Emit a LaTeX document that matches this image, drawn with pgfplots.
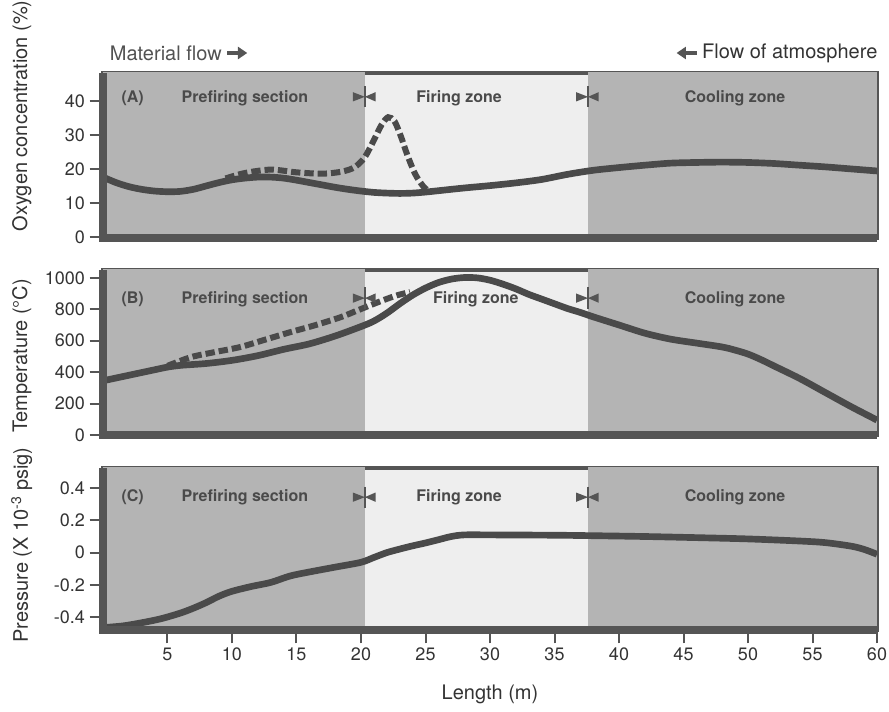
\documentclass[border=0pt]{standalone}
\usepackage{fontspec}
\setmainfont{TeX Gyre Heros}
\usepackage{pgfplots}
\pgfplotsset{compat=1.18}
\usetikzlibrary{arrows.meta}

\definecolor{ink}{HTML}{4A4A4A}
\definecolor{zonegray}{HTML}{B4B4B4}
\definecolor{firegray}{HTML}{EEEEEE}
\definecolor{frame}{HTML}{555555}
\definecolor{txt}{HTML}{333333}

\tikzset{zone/.style={font=\bfseries\fontsize{12}{13}\selectfont, text=ink}}

\pgfplotsset{
  kiln/.style={
    scale only axis, width=580.5pt,
    xmin=0, xmax=60,
    axis line style={draw=frame, line width=2.5pt},
    axis background/.style={fill=firegray},
    tick align=outside, tick pos=left,
    major tick length=10pt,
    tick style={draw=frame, line width=1.5pt},
    every tick label/.append style={font=\fontsize{13.5}{14}\selectfont, text=txt},
    /pgf/number format/assume math mode=true,
    /pgf/number format/1000 sep={},
    ylabel style={font=\fontsize{15}{16}\selectfont, text=txt, anchor=center},
    after end axis/.append code={
      \draw[frame, line width=5.5pt] (rel axis cs:0,1) -- (rel axis cs:0,0) -- (rel axis cs:1,0);
    },
  },
}

% zone boundary marker: tick line with bow-tie
\newcommand{\sep}[2]{%
  \draw[frame, line width=1pt] ([yshift=8pt]axis cs:#1,#2) -- ([yshift=-8pt]axis cs:#1,#2);
  \fill[frame] ([xshift=-9pt,yshift=3.5pt]axis cs:#1,#2) -- (axis cs:#1,#2)
    -- ([xshift=-9pt,yshift=-3.5pt]axis cs:#1,#2) -- cycle;
  \fill[frame] ([xshift=8pt,yshift=3.5pt]axis cs:#1,#2) -- (axis cs:#1,#2)
    -- ([xshift=8pt,yshift=-3.5pt]axis cs:#1,#2) -- cycle;
}

\begin{document}
\begin{tikzpicture}
\useasboundingbox (-77.25pt,54.75pt) rectangle (589.5pt,-479.25pt);

\node[anchor=west, inner sep=0, font=\fontsize{15}{16}\selectfont, text=txt!85] (mf) at (5pt,15pt) {Material flow};
\draw[frame, line width=3pt, -{Triangle[length=7pt,width=9pt]}] ([xshift=4pt]mf.east) -- ++(15pt,0);
\node[anchor=east, inner sep=0, font=\fontsize{15}{16}\selectfont, text=txt] (fa) at (581pt,15pt) {Flow of atmosphere};
\draw[frame, line width=3pt, -{Triangle[length=7pt,width=9pt]}] ([xshift=-4pt]fa.west) -- ++(-15pt,0);

% (A) oxygen
\begin{axis}[kiln, at={(0,0)}, anchor=north west, height=123.75pt,
  ymin=-0.3, ymax=48.2, ytick={0,10,20,30,40}, xtick=\empty,
  ylabel={Oxygen concentration (\%)},
  ylabel style={at={(rel axis cs:-0.105,0.74)}}]
\fill[zonegray] (axis cs:0,-5) rectangle (axis cs:20.3,60);
\fill[zonegray] (axis cs:37.6,-5) rectangle (axis cs:60,60);
\addplot[ink, line width=5pt, smooth, tension=0.5] coordinates {
(0,17.6)(1,16)(2,14.8)(3,14)(4,13.5)(5,13.3)(6,13.4)(7,14)(8,15)(9,16)(10,16.8)
(11,17.3)(12,17.6)(13,17.6)(14,17.3)(15,16.7)(16,16)(17,15.3)(18,14.6)(19,14)
(20,13.5)(21,13.1)(22,12.9)(23,12.8)(24,12.9)(25,13.2)(26,13.6)(28,14.4)(30,15.1)
(32,15.9)(34,16.9)(36,18.4)(38,19.6)(40,20.4)(42,21.1)(44,21.7)(46,21.9)(48,22)
(50,21.9)(52,21.6)(54,21.1)(56,20.6)(58,20)(60,19.4)};
\addplot[ink, line width=4.5pt, dash pattern=on 7pt off 3pt, smooth, tension=0.5] coordinates {
(9.5,17.2)(11,18.8)(13,19.8)(15,19)(17,18.6)(18.5,19.2)(19.5,20.5)(20.3,23.5)
(21,28.5)(21.6,33)(22.1,35.2)(22.6,34)(23.1,29.5)(23.6,24)(24.2,18.5)(24.8,15)(25.3,13.3)};
\node[zone] at (axis cs:2.3,40.9) {(A)};
\node[zone] at (axis cs:11,40.9) {Prefiring section};
\node[zone] at (axis cs:27.6,40.9) {Firing zone};
\node[zone] at (axis cs:49,40.9) {Cooling zone};
\sep{20.3}{41.2}
\sep{37.6}{41.2}
\end{axis}

% (B) temperature
\begin{axis}[kiln, at={(0,-147.75pt)}, anchor=north west, height=123.75pt,
  ymin=0, ymax=1050, ytick={0,200,...,1000}, xtick=\empty,
  ylabel={Temperature (°C)},
  ylabel style={at={(rel axis cs:-0.105,0.48)}}]
\fill[zonegray] (axis cs:0,-100) rectangle (axis cs:20.3,1200);
\fill[zonegray] (axis cs:37.6,-100) rectangle (axis cs:60,1200);
\addplot[ink, line width=5pt, smooth, tension=0.5] coordinates {
(0,345)(2,380)(4,415)(5,432)(6,443)(8,455)(10,475)(12,505)(14,545)(16,580)(18,630)
(20,690)(21,725)(22,775)(23,835)(24,890)(25,935)(26,970)(27,992)(28,1002)(29,1000)
(30,985)(31,960)(32,930)(33,895)(34,865)(35,835)(36,805)(37,780)(38,752)(40,700)
(42,648)(44,610)(46,585)(48,560)(49,540)(50,515)(51,480)(52,440)(54,360)(56,270)
(58,180)(60,95)};
\addplot[ink, line width=4.5pt, dash pattern=on 7pt off 3pt, smooth, tension=0.5] coordinates {
(5,440)(6.8,495)(8.5,525)(10.6,559)(12.5,605)(14.5,654)(16.5,700)(18.4,749)
(19.5,785)(20.7,825)(21.8,860)(22.8,889)(23.8,910)};
\node[zone] at (axis cs:2.3,861) {(B)};
\node[zone] at (axis cs:11,861) {Prefiring section};
\node[zone] at (axis cs:28.9,861) {Firing zone};
\node[zone] at (axis cs:49,861) {Cooling zone};
\sep{20.3}{871}
\sep{37.6}{871}
\end{axis}

% (C) pressure
\begin{axis}[kiln, at={(0,-296.25pt)}, anchor=north west, height=121.5pt,
  ymin=-0.48, ymax=0.525, ytick={-0.4,-0.2,0,0.2,0.4},
  xtick={5,10,...,60},
  ylabel={Pressure (X 10\textsuperscript{-3} psig)},
  ylabel style={at={(rel axis cs:-0.105,0.525)}},
  xlabel={Length (m)},
  xlabel style={at={(rel axis cs:0.5,-0.4)}, anchor=center, font=\fontsize{15}{16}\selectfont, text=txt}]
\fill[zonegray] (axis cs:0,-1) rectangle (axis cs:20.3,1);
\fill[zonegray] (axis cs:37.6,-1) rectangle (axis cs:60,1);
\addplot[ink, line width=5pt, smooth, tension=0.5] coordinates {
(0,-0.465)(1.5,-0.455)(3,-0.435)(4.5,-0.41)(6,-0.375)(7,-0.345)(8,-0.31)(9,-0.27)
(10,-0.24)(11.5,-0.21)(13,-0.185)(14.5,-0.145)(16,-0.12)(18,-0.09)(20,-0.06)
(21,-0.03)(22,0)(23,0.022)(24,0.042)(25,0.06)(26,0.08)(27,0.1)(28,0.11)
(30,0.11)(35,0.108)(38,0.105)(42,0.1)(46,0.093)(50,0.085)(54,0.072)
(56,0.062)(58,0.04)(59,0.02)(60,-0.01)};
\node[zone] at (axis cs:2.3,0.344) {(C)};
\node[zone] at (axis cs:11,0.344) {Prefiring section};
\node[zone] at (axis cs:27.6,0.344) {Firing zone};
\node[zone] at (axis cs:49,0.344) {Cooling zone};
\sep{20.3}{0.344}
\sep{37.6}{0.344}
\end{axis}
\end{tikzpicture}
\end{document}
